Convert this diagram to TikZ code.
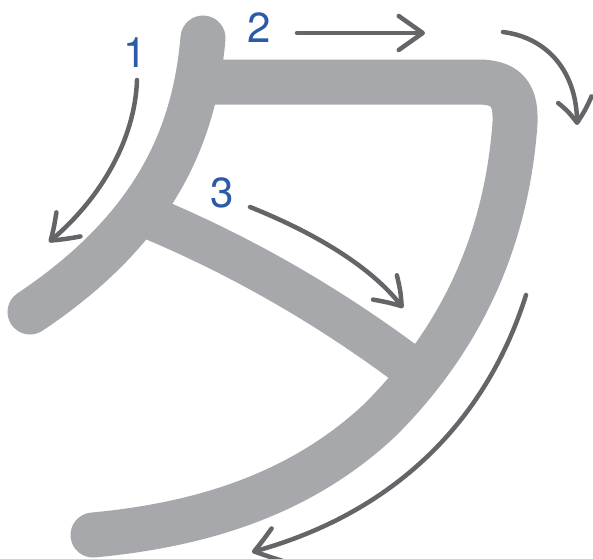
\documentclass[tikz,border=0pt]{standalone}
\usepackage{fontspec}
\setmainfont{TeX Gyre Heros}
\usetikzlibrary{arrows.meta,bending}
\definecolor{strokegray}{HTML}{A7A8AB}
\definecolor{arrowgray}{HTML}{646569}
\definecolor{numblue}{HTML}{2B5BA8}
\tikzset{
  kana/.style={draw=strokegray, line width=45pt, line cap=round, line join=round},
  kanabutt/.style={draw=strokegray, line width=43pt, line cap=butt},
  orderarrow/.style={draw=arrowgray, line width=4.5pt, line cap=round,
    -{Straight Barb[length=24pt,width=34pt,round,bend]}},
  num/.style={text=numblue, font=\fontsize{42}{42}\selectfont, inner sep=0pt}
}
\begin{document}
\begin{tikzpicture}[x=1pt,y=-1pt]
\useasboundingbox[fill=white] (0,0) rectangle (593,558);
% stroke coordinates
\coordinate (s1a) at (203,38);
\coordinate (s1b) at (30,312);
\coordinate (s2a) at (200,82);
\coordinate (s2c) at (478,82);
\coordinate (s2d) at (514,135);
\coordinate (s2e) at (380,420);
\coordinate (s2b) at (93,535);
\coordinate (s3a) at (146,216);
\coordinate (s3b) at (418,373);
% strokes
\draw[kana] (s2a) -- (s2c) .. controls (512,82) and (518,100) .. (s2d)
  .. controls (505,230) and (470,330) .. (s2e)
  .. controls (300,495) and (200,525) .. (s2b);
\draw[kanabutt] (s3a) .. controls (245,257) and (335,310) .. (s3b);
\draw[kana] (s1a) .. controls (195,130) and (160,225) .. (s1b);
% numbers
\node[num] (n1) at (135,53) {1};
\node[num] (n2) at (259,28) {2};
\node[num] (n3) at (222,193) {3};
% arrow end points
\coordinate (a1s) at (137,80);
\coordinate (a1e) at (49,242);
\coordinate (a2s) at (297,33);
\coordinate (a2e) at (425,33);
\coordinate (a3s) at (250,207);
\coordinate (a3e) at (403,308);
\coordinate (a4s) at (503,32);
\coordinate (a4e) at (577,125);
\coordinate (a5s) at (526,295);
\coordinate (a5e) at (252,552);
% arrows
\draw[orderarrow] (a1s) .. controls (135,140) and (100,200) .. (a1e);
\draw[orderarrow] (a2s) -- (a2e);
\draw[orderarrow] (a3s) .. controls (320,235) and (375,270) .. (a3e);
\draw[orderarrow] (a4s) .. controls (550,38) and (578,75) .. (a4e);
\draw[orderarrow] (a5s) .. controls (485,425) and (390,515) .. (a5e);
\end{tikzpicture}
\end{document}
